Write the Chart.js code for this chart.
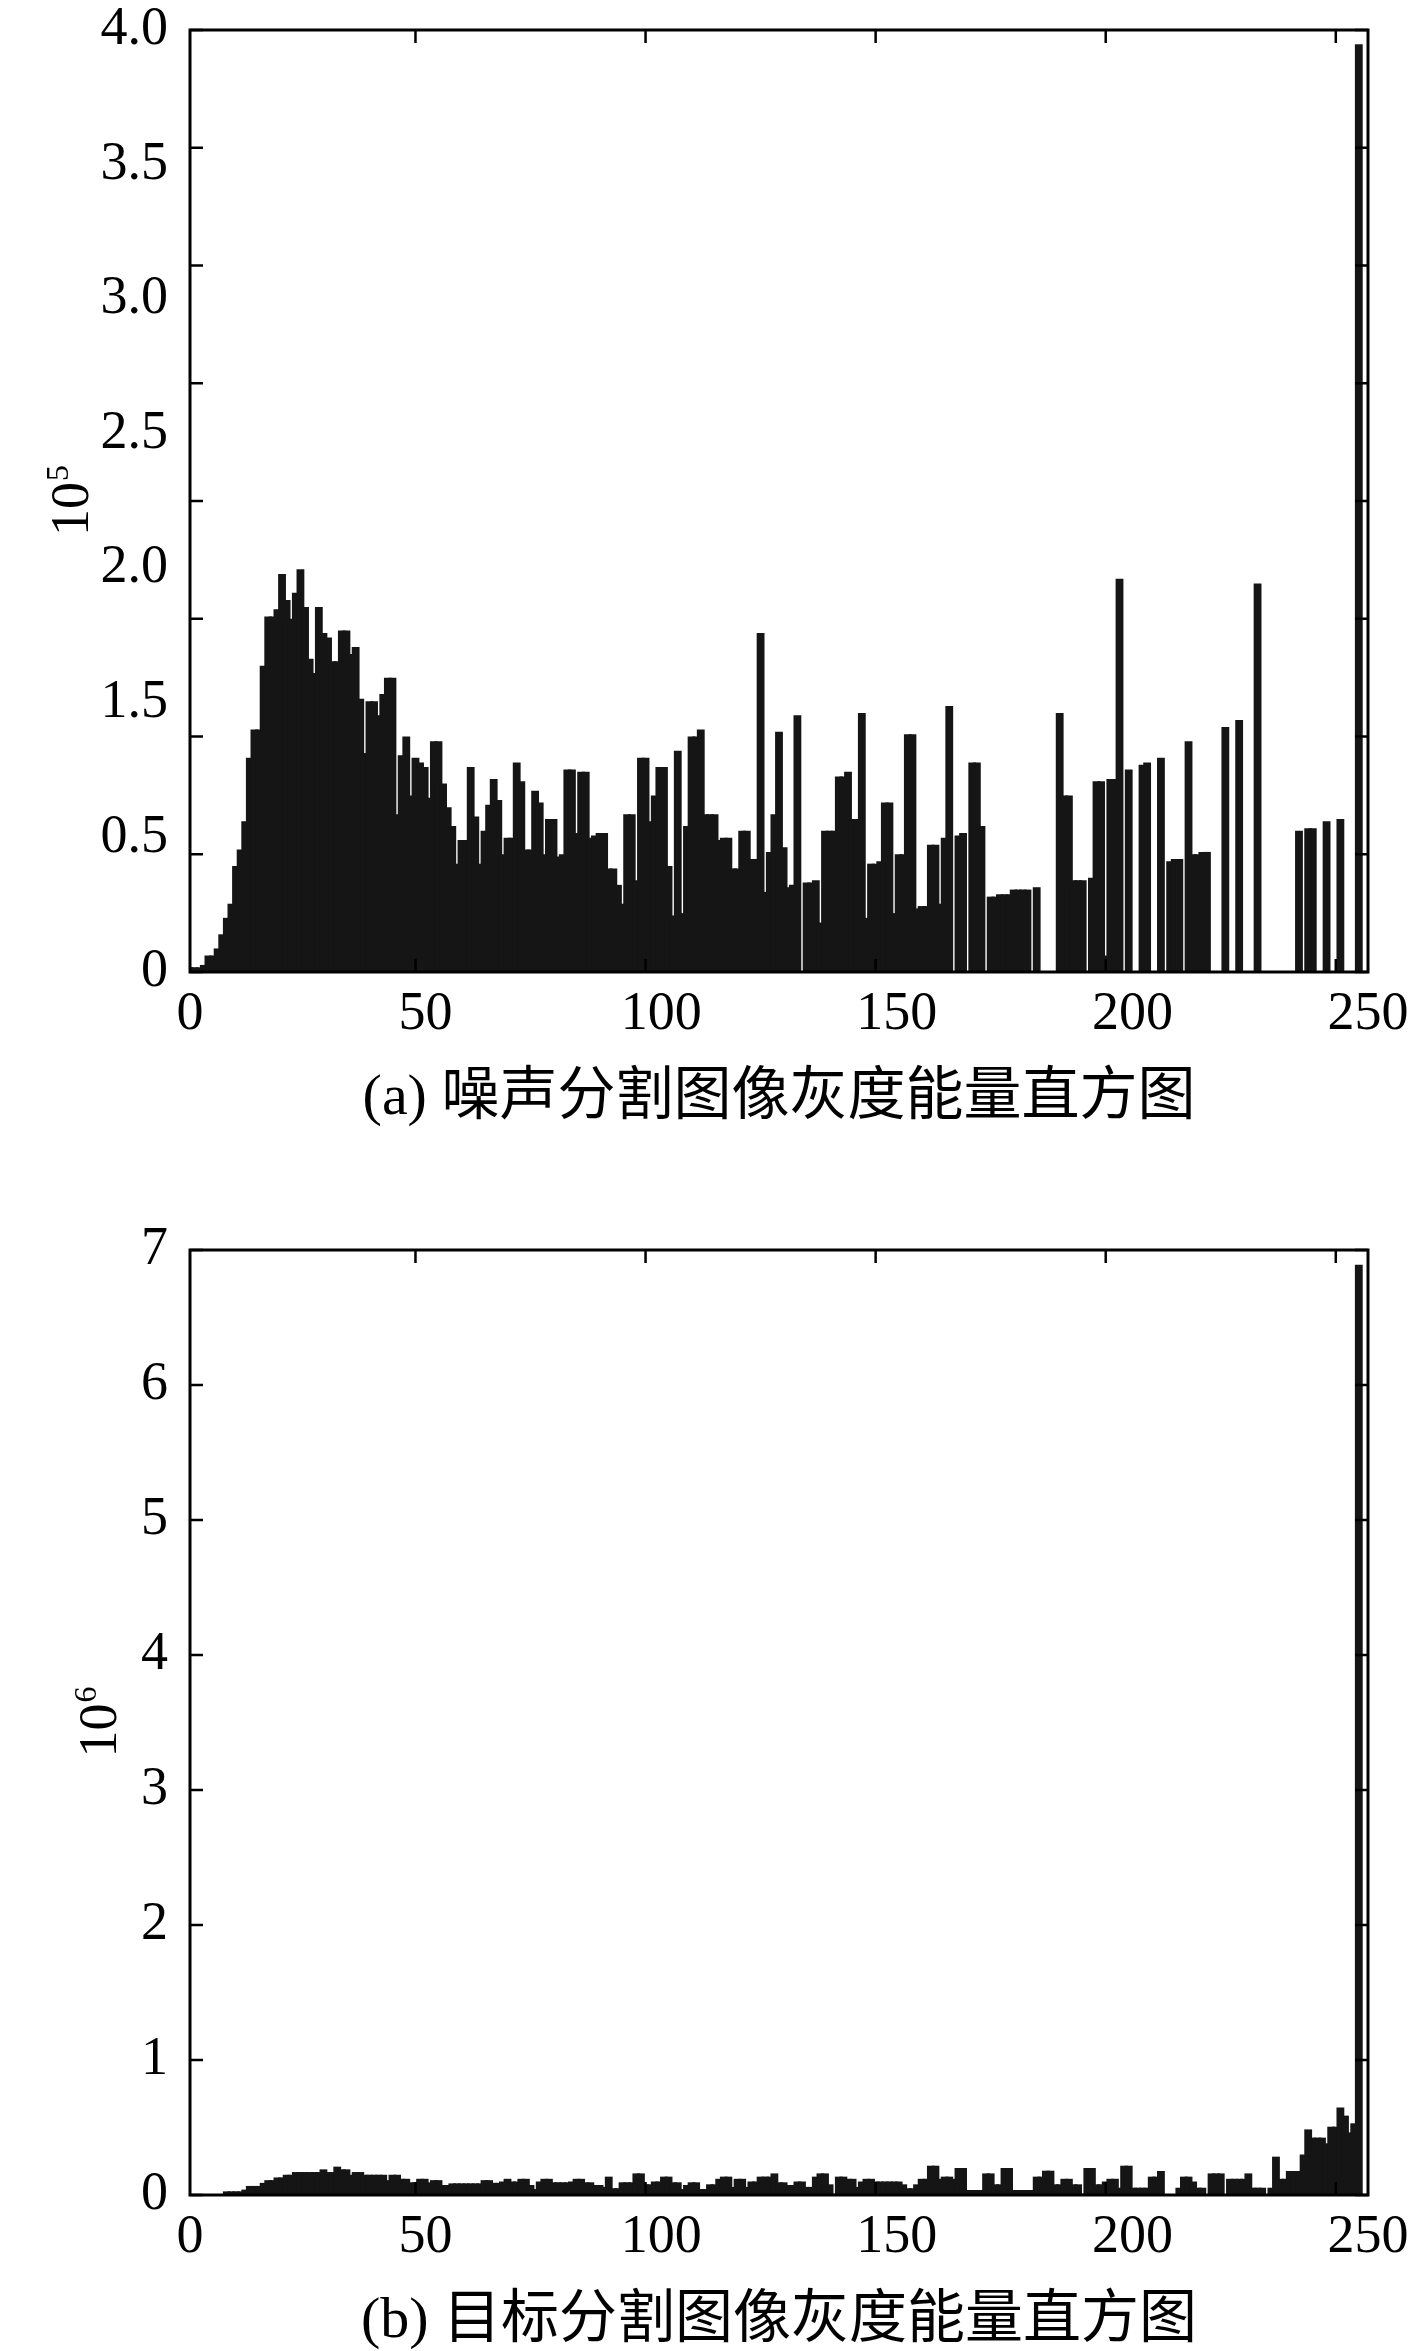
<!DOCTYPE html>
<html>
<head>
<meta charset="utf-8">
<script src="https://cdn.jsdelivr.net/npm/chart.js@4.4.1/dist/chart.umd.min.js"></script>
<style>
  body { margin: 0; background: #fff; }
  .wrap { position: absolute; left: 0; width: 1417px; }
  .cap {
    position: absolute; left: 190px; width: 1178px; text-align: center;
    font-family: "Liberation Serif", "Noto Sans CJK SC", serif;
    font-size: 58px; line-height: 58px; color: #000; white-space: nowrap;
  }
</style>
</head>
<body>
<div class="wrap" style="top:0;height:1060px"><canvas id="noise" width="1417" height="1060"></canvas></div>
<div class="cap" style="top:1066px">(a) 噪声分割图像灰度能量直方图</div>
<div class="wrap" style="top:1180px;height:1110px"><canvas id="target" width="1417" height="1110"></canvas></div>
<div class="cap" style="top:2289px">(b) 目标分割图像灰度能量直方图</div>
<script>
// gray levels 1..256, one bar each
const grayLevels = Array.from({ length: 256 }, (_, i) => i + 1);

// (a) noise segmented image, units of 10^5
const noiseEnergy = [
  0.02,0.02,0.02,0.03,0.07,0.07,0.10,0.16,0.23,0.29,
  0.45,0.52,0.64,0.91,1.03,1.03,1.30,1.51,1.51,1.54,
  1.69,1.58,1.50,1.61,1.71,1.55,1.33,1.27,1.55,1.44,
  1.42,1.32,1.32,1.45,1.45,1.35,1.38,1.16,0.93,1.15,
  1.15,1.09,1.18,1.25,1.25,0.67,0.92,1.00,0.75,0.91,
  0.89,0.87,0.74,0.98,0.98,0.80,0.70,0.62,0.46,0.56,
  0.56,0.87,0.66,0.46,0.60,0.71,0.82,0.73,0.50,0.57,
  0.57,0.89,0.81,0.52,0.52,0.77,0.72,0.50,0.65,0.65,
  0.49,0.50,0.86,0.86,0.59,0.85,0.85,0.57,0.58,0.59,
  0.59,0.44,0.44,0.37,0.29,0.67,0.67,0.39,0.91,0.91,
  0.64,0.75,0.87,0.87,0.45,0.24,0.94,0.25,0.62,1.00,
  1.00,1.03,0.67,0.67,0.67,0.56,0.57,0.57,0.44,0.44,
  0.60,0.60,0.48,0.48,1.44,0.34,0.51,0.67,1.02,0.53,
  0.36,0.37,1.09,0,0.38,0.38,0.39,0.21,0.60,0.60,
  0.60,0.83,0.83,0.85,0.65,0.65,1.10,0.23,0.46,0.46,
  0.47,0.72,0.72,0.25,0.50,0.50,1.01,1.01,0.27,0.28,
  0.28,0.54,0.54,0.29,0.57,1.13,0,0.58,0.59,0,
  0.89,0.89,0.62,0,0.32,0.32,0.33,0.33,0.33,0.35,
  0.35,0.35,0.35,0,0.36,0,0,0,0,1.10,
  0.75,0.75,0.39,0.39,0.39,0,0.40,0.81,0.81,0.07,
  0.82,0.82,1.67,0,0.86,0,0,0.88,0.89,0,
  0,0.91,0,0.47,0.48,0.48,0,0.98,0.50,0.50,
  0.51,0.51,0,0,0,1.04,0,0,1.07,0,
  0,0,1.65,0,0,0,0,0,0,0,
  0,0.60,0,0.61,0.61,0,0,0.64,0,0,
  0.65,0,0,0,3.94,0
];

// (b) target segmented image, units of 10^6
const targetEnergy = [
  0.007,0.007,0.007,0.007,0.007,0.007,0.007,0.007,0.027,0.027,
  0.027,0.027,0.04,0.067,0.067,0.067,0.09,0.11,0.11,0.13,
  0.13,0.15,0.15,0.17,0.17,0.17,0.17,0.17,0.17,0.19,
  0.17,0.17,0.21,0.19,0.19,0.15,0.17,0.17,0.15,0.15,
  0.15,0.15,0.15,0.11,0.15,0.15,0.12,0.12,0.094,0.094,
  0.12,0.12,0.094,0.11,0.11,0.074,0.074,0.086,0.086,0.086,
  0.086,0.086,0.086,0.086,0.11,0.11,0.09,0.09,0.10,0.12,
  0.10,0.10,0.12,0.12,0.074,0.044,0.10,0.12,0.12,0.094,
  0.094,0.094,0.094,0.10,0.12,0.12,0.094,0.094,0.074,0.074,
  0.06,0.136,0.05,0.05,0.094,0.094,0.094,0.16,0.16,0.079,
  0.079,0.10,0.10,0.136,0.136,0.094,0.094,0.044,0.074,0.094,
  0.094,0.044,0.044,0.079,0.079,0.12,0.136,0.136,0.06,0.12,
  0.12,0.06,0.10,0.10,0.136,0.136,0.136,0.16,0.094,0.094,
  0.074,0.074,0.10,0.10,0.06,0.06,0.136,0.16,0.16,0.079,
  0.01,0.136,0.136,0.12,0.12,0.06,0.10,0.12,0.12,0.10,
  0.10,0.10,0.10,0.10,0.10,0.079,0.05,0.05,0.079,0.12,
  0.12,0.217,0.217,0.12,0.136,0.136,0.12,0.20,0.20,0.037,
  0.037,0.037,0.037,0.16,0.16,0.079,0.079,0.20,0.20,0.037,
  0.037,0.037,0.037,0.037,0.136,0.136,0.18,0.18,0.079,0.079,
  0.12,0.12,0.079,0.079,0.01,0.20,0.20,0.079,0.079,0.10,
  0.12,0.12,0.054,0.217,0.217,0.054,0.054,0.054,0.054,0.136,
  0.136,0.178,0,0,0,0.054,0.136,0.136,0.10,0.054,
  0.054,0,0.16,0.16,0.16,0,0.12,0.12,0.12,0.12,
  0.16,0.054,0.054,0.054,0,0.054,0.284,0.12,0.12,0.178,
  0.178,0.178,0.30,0.486,0.425,0.425,0.425,0.383,0.506,0.506,
  0.649,0.588,0.464,0.531,6.89,0
];

// inner tick marks (data units) and the printed labels
const xTickMarks = [50, 100, 150, 200, 250];
const xTickLabels = ['0', '50', '100', '150', '200', '250'];
const noiseYTicks = [0, 0.5, 1, 1.5, 2, 2.5, 3, 3.5, 4];
const noiseYLabels = ['0', '0.5', '1.5', '2.0', '2.5', '3.0', '3.5', '4.0'];
const targetYTicks = [0, 1, 2, 3, 4, 5, 6, 7];
const targetYLabels = ['0', '1', '2', '3', '4', '5', '6', '7'];

const SERIF = '"Liberation Serif", "Times New Roman", serif';
const BAR = '#151515';

// frame, inward ticks and the rotated 10^n axis title
function framePlugin(yTicks, expo, titleX) {
  return {
    id: 'frame',
    afterDatasetsDraw(chart) {
      const { ctx, chartArea: a } = chart;
      const xs = chart.scales.x, ys = chart.scales.y;
      const len = 13;
      ctx.save();
      ctx.strokeStyle = '#000';
      ctx.lineWidth = 2.5;
      ctx.beginPath();
      yTicks.forEach(v => {
        const p = ys.getPixelForValue(v);
        ctx.moveTo(a.left, p); ctx.lineTo(a.left + len, p);
        ctx.moveTo(a.right, p); ctx.lineTo(a.right - len, p);
      });
      xTickMarks.forEach(v => {
        const p = xs.getPixelForValue(v);
        ctx.moveTo(p, a.top); ctx.lineTo(p, a.top + len);
        ctx.moveTo(p, a.bottom); ctx.lineTo(p, a.bottom - len);
      });
      ctx.stroke();
      ctx.lineWidth = 3;
      ctx.strokeRect(a.left, a.top, a.right - a.left, a.bottom - a.top);

      // "10" with superscript exponent, reading bottom to top
      ctx.translate(titleX, (a.top + a.bottom) / 2);
      ctx.rotate(-Math.PI / 2);
      ctx.fillStyle = '#000';
      ctx.textBaseline = 'alphabetic';
      ctx.textAlign = 'left';
      ctx.font = '54px ' + SERIF;
      const w1 = ctx.measureText('10').width;
      ctx.font = '32px ' + SERIF;
      const w2 = ctx.measureText(expo).width;
      const x0 = -(w1 + w2) / 2;
      ctx.font = '54px ' + SERIF;
      ctx.fillText('10', x0, 18);
      ctx.font = '32px ' + SERIF;
      ctx.fillText(expo, x0 + w1 + 1, -2);
      ctx.restore();
    }
  };
}

function makeChart(id, values, yMax, yTicks, yLabels, yLabelMax, expo, titleX, padTop, xlHeight) {
  const points = grayLevels.map((g, i) => ({ x: g, y: values[i] }));
  return new Chart(document.getElementById(id), {
    type: 'bar',
    data: {
      datasets: [{
        data: points,
        backgroundColor: BAR,
        borderWidth: 0,
        barPercentage: 1.7,
        categoryPercentage: 1,
        clip: 0,
        xAxisID: 'x',
        yAxisID: 'y'
      }]
    },
    options: {
      responsive: false,
      animation: false,
      layout: { padding: { top: padTop, right: 49, left: 0, bottom: 0 } },
      plugins: { legend: { display: false }, tooltip: { enabled: false } },
      scales: {
        x: { type: 'linear', min: 1, max: 257, offset: false, grid: { offset: false }, display: false },
        y: { type: 'linear', min: 0, max: yMax, display: false },
        xl: {
          type: 'linear', position: 'bottom', min: 0, max: 250, offset: false,
          grid: { display: false, drawTicks: false, offset: false },
          border: { display: false },
          ticks: {
            stepSize: 50, autoSkip: false, maxRotation: 0, padding: 16,
            color: '#000', font: { family: SERIF, size: 54, lineHeight: 1 },
            callback: (v, i) => xTickLabels[i]
          },
          afterFit: s => { s.height = xlHeight; s.paddingLeft = 0; s.paddingRight = 0; }
        },
        yl: {
          type: 'linear', position: 'left', min: 0, max: yLabelMax,
          grid: { display: false, drawTicks: false },
          border: { display: false },
          ticks: {
            stepSize: 1, autoSkip: false, padding: 22,
            color: '#000', font: { family: SERIF, size: 54, lineHeight: 1 },
            callback: (v, i) => yLabels[i]
          },
          afterFit: s => { s.width = 190; s.paddingTop = 0; s.paddingBottom = 0; }
        }
      }
    },
    plugins: [framePlugin(yTicks, expo, titleX)]
  });
}

makeChart('noise', noiseEnergy, 4, noiseYTicks, noiseYLabels, 7, '5', 70, 30, 88);
makeChart('target', targetEnergy, 7, targetYTicks, targetYLabels, 7, '6', 98, 70, 95);
</script>
</body>
</html>
